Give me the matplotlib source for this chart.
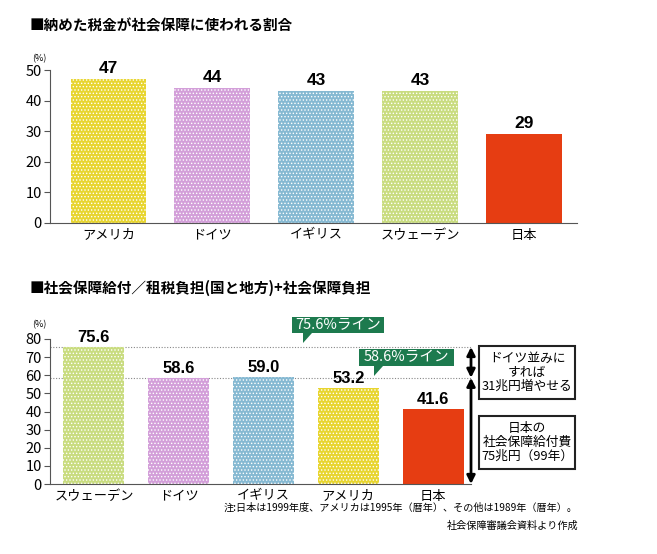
import matplotlib.pyplot as plt
import matplotlib.patches as mpatches

plt.rcParams['font.family'] = ['Noto Sans CJK JP', 'DejaVu Sans']
plt.rcParams['hatch.linewidth'] = 0.6

# top chart data
top_cats = ['アメリカ', 'ドイツ', 'イギリス', 'スウェーデン', '日本']
top_vals = [47, 44, 43, 43, 29]
top_labels = ['47', '44', '43', '43', '29']

# bottom chart data
bot_cats = ['スウェーデン', 'ドイツ', 'イギリス', 'アメリカ', '日本']
bot_vals = [75.6, 58.6, 59.0, 53.2, 41.6]
bot_labels = ['75.6', '58.6', '59.0', '53.2', '41.6']

col = {'アメリカ': '#e8d530', 'ドイツ': '#d39fd9', 'イギリス': '#86b9d2',
       'スウェーデン': '#c9dc80', '日本': '#e63d12'}

W, H = 657, 554
fig = plt.figure(figsize=(W/100, H/100), dpi=100)

def fx(px):
    return px / W

def fy(py):
    return 1 - py / H

def style_axes(ax, ymax, step):
    for s in ['top', 'right']:
        ax.spines[s].set_visible(False)
    ax.spines['left'].set_color('#555555')
    ax.spines['bottom'].set_color('#555555')
    ax.spines['left'].set_bounds(0, ymax)
    ax.set_ylim(0, ymax)
    ax.set_yticks(range(0, ymax + 1, step))
    ax.tick_params(axis='y', length=4, width=0.8, color='#555555', labelsize=10.5, pad=2)
    ax.tick_params(axis='x', length=0, labelsize=9.5, pad=4)

def draw_bars(ax, cats, vals, labels, w, fs):
    x = range(len(cats))
    for i, c in enumerate(cats):
        if c == '日本':
            ax.bar(i, vals[i], w, color=col[c], linewidth=0)
        else:
            ax.bar(i, vals[i], w, color=col[c], hatch='.....', edgecolor='white', linewidth=0)
    for i, v in enumerate(vals):
        ax.text(i, v + 1, labels[i], ha='center', va='bottom', fontsize=fs, fontweight='bold',
                family=['Liberation Sans'])
    ax.set_xticks(list(x))
    ax.set_xticklabels(cats)

# ---- top chart
ax1 = fig.add_axes([fx(50), fy(223), fx(577) - fx(50), (223 - 70) / H])
draw_bars(ax1, top_cats, top_vals, top_labels, 0.73, 12.5)
ax1.set_xlim(-0.5625, 4.51)
style_axes(ax1, 50, 10)
fig.text(fx(30), fy(25), '■納めた税金が社会保障に使われる割合', fontsize=10.5, fontweight='bold', va='center')
fig.text(fx(32), fy(59), '(%)', fontsize=6.5, va='center')

# ---- bottom chart
ax2 = fig.add_axes([fx(50), fy(484), fx(471) - fx(50), (484 - 339) / H])
draw_bars(ax2, bot_cats, bot_vals, bot_labels, 0.72, 12)
xr = 4.447
ax2.set_xlim(-0.518, xr)
style_axes(ax2, 80, 10)
fig.text(fx(30), fy(288), '■社会保障給付／租税負担(国と地方)+社会保障負担', fontsize=10.5, fontweight='bold', va='center')
fig.text(fx(32), fy(325), '(%)', fontsize=6.5, va='center')

# reference lines
for v in [bot_vals[0], bot_vals[1]]:
    ax2.plot([-0.518, xr], [v, v], ls=(0, (1, 1.5)), color='#888888', lw=0.8, clip_on=False, zorder=0)

# double arrows
ax2.annotate('', xy=(xr, bot_vals[0]), xytext=(xr, bot_vals[1]),
             arrowprops=dict(arrowstyle='<|-|>', color='black', lw=2, mutation_scale=12, shrinkA=0, shrinkB=0),
             annotation_clip=False)
ax2.annotate('', xy=(xr, bot_vals[1]), xytext=(xr, 0),
             arrowprops=dict(arrowstyle='<|-|>', color='black', lw=2, mutation_scale=12, shrinkA=0, shrinkB=0),
             annotation_clip=False)

# boxes on the right
def box(x0, y0, x1, y1, lines):
    r = mpatches.Rectangle((fx(x0), fy(y1)), fx(x1) - fx(x0), (y1 - y0) / H, transform=fig.transFigure,
                           facecolor='white', edgecolor='#222222', lw=1.5)
    fig.patches.append(r)
    fig.text(fx((x0 + x1) / 2), fy((y0 + y1) / 2), lines, ha='center', va='center', fontsize=9.2,
             linespacing=1.1)

box(479, 346, 575, 399, 'ドイツ並みに\nすれば\n31兆円増やせる')
box(479, 416, 575, 469, '日本の\n社会保障給付費\n75兆円（99年）')

# green callouts
green = '#1d7a4e'
def callout(x0, y0, x1, y1, tail_x, tail_y, txt):
    r = mpatches.Rectangle((fx(x0), fy(y1)), fx(x1) - fx(x0), (y1 - y0) / H, transform=fig.transFigure,
                           facecolor=green, edgecolor='none')
    fig.patches.append(r)
    tri = mpatches.Polygon([(fx(tail_x - 2), fy(y1)), (fx(tail_x + 7), fy(y1)), (fx(tail_x - 2), fy(tail_y))],
                           closed=True, transform=fig.transFigure, facecolor=green, edgecolor='none')
    fig.patches.append(tri)
    fig.text(fx((x0 + x1) / 2), fy((y0 + y1) / 2), txt, ha='center', va='center', fontsize=10.5,
             color='white')

callout(292, 317, 384, 333, 305, 343, '75.6%ライン')
callout(359, 349, 454, 366, 376, 376, '58.6%ライン')

# notes
fig.text(fx(578), fy(508), '注:日本は1999年度、アメリカは1995年（暦年）、その他は1989年（暦年）。',
         ha='right', va='center', fontsize=7.3)
fig.text(fx(578), fy(526), '社会保障審議会資料より作成', ha='right', va='center', fontsize=7.3)

fig.savefig('out.png', dpi=100)
